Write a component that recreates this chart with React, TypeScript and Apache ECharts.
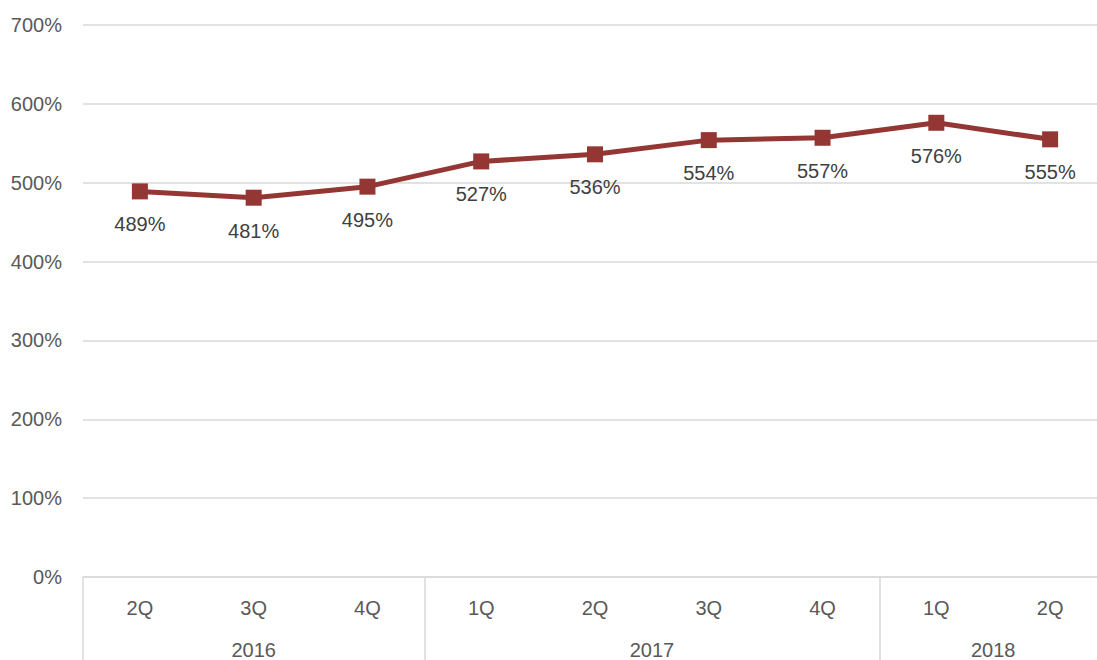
import React, { useEffect, useRef } from "react";
import * as echarts from "echarts";

const quarters = ["2Q", "3Q", "4Q", "1Q", "2Q", "3Q", "4Q", "1Q", "2Q"];
const values = [489, 481, 495, 527, 536, 554, 557, 576, 555];
const years = ["2016", "2017", "2018"];
const yearCounts = [3, 4, 2];

const FONT = "'Liberation Sans Narrow', 'Arial Narrow', 'Liberation Sans', Arial, sans-serif";

export default function App() {
  const ref = useRef<HTMLDivElement>(null);
  useEffect(() => {
    if (!ref.current) return;
    const chart = echarts.init(ref.current, undefined, { renderer: "svg" });
    const bounds: number[] = [0];
    const centers: number[] = [];
    yearCounts.forEach((c) => {
      const start = bounds[bounds.length - 1];
      centers.push(start + c / 2);
      bounds.push(start + c);
    });
    chart.setOption({
      animation: false,
      textStyle: { fontFamily: FONT },
      grid: { left: 83, right: 0, top: 25, bottom: 82, containLabel: false },
      xAxis: [
        {
          type: "category",
          data: quarters,
          position: "bottom",
          axisLine: { show: true, lineStyle: { color: "#d9d9d9", width: 1.5 } },
          axisTick: { show: false },
          axisLabel: { color: "#595959", fontSize: 20, margin: 21, fontFamily: FONT },
          splitLine: { show: false },
        },
        {
          type: "value",
          min: 0,
          max: quarters.length,
          position: "bottom",
          axisLine: { show: false },
          axisTick: {
            show: true,
            inside: false,
            length: 90,
            customValues: bounds,
            lineStyle: { color: "#d9d9d9", width: 1.5 },
          },
          axisLabel: {
            show: true,
            customValues: centers,
            formatter: (v: number) => {
              const i = centers.findIndex((c) => Math.abs(c - v) < 1e-6);
              return i >= 0 ? years[i] : "";
            },
            color: "#595959",
            fontSize: 20,
            margin: 63,
            fontFamily: FONT,
          },
          splitLine: { show: false },
        },
      ],
      yAxis: {
        type: "value",
        min: 0,
        max: 700,
        interval: 100,
        axisLine: { show: false },
        axisTick: { show: false },
        axisLabel: {
          formatter: "{value}%",
          color: "#595959",
          fontSize: 20,
          margin: 21,
          fontFamily: FONT,
        },
        splitLine: { lineStyle: { color: "#d9d9d9", width: 1.5 } },
      },
      series: [
        {
          type: "line",
          xAxisIndex: 0,
          data: values,
          symbol: "rect",
          symbolSize: 16,
          lineStyle: { color: "#943634", width: 5 },
          itemStyle: { color: "#943634" },
          label: {
            show: true,
            position: "bottom",
            distance: 15,
            formatter: "{c}%",
            color: "#404040",
            fontSize: 20,
            fontFamily: FONT,
          },
        },
      ],
    });
    return () => chart.dispose();
  }, []);
  return (
    <div
      ref={ref}
      style={{ position: "fixed", left: 0, top: 0, width: 1107, height: 660, background: "#fff" }}
    />
  );
}
